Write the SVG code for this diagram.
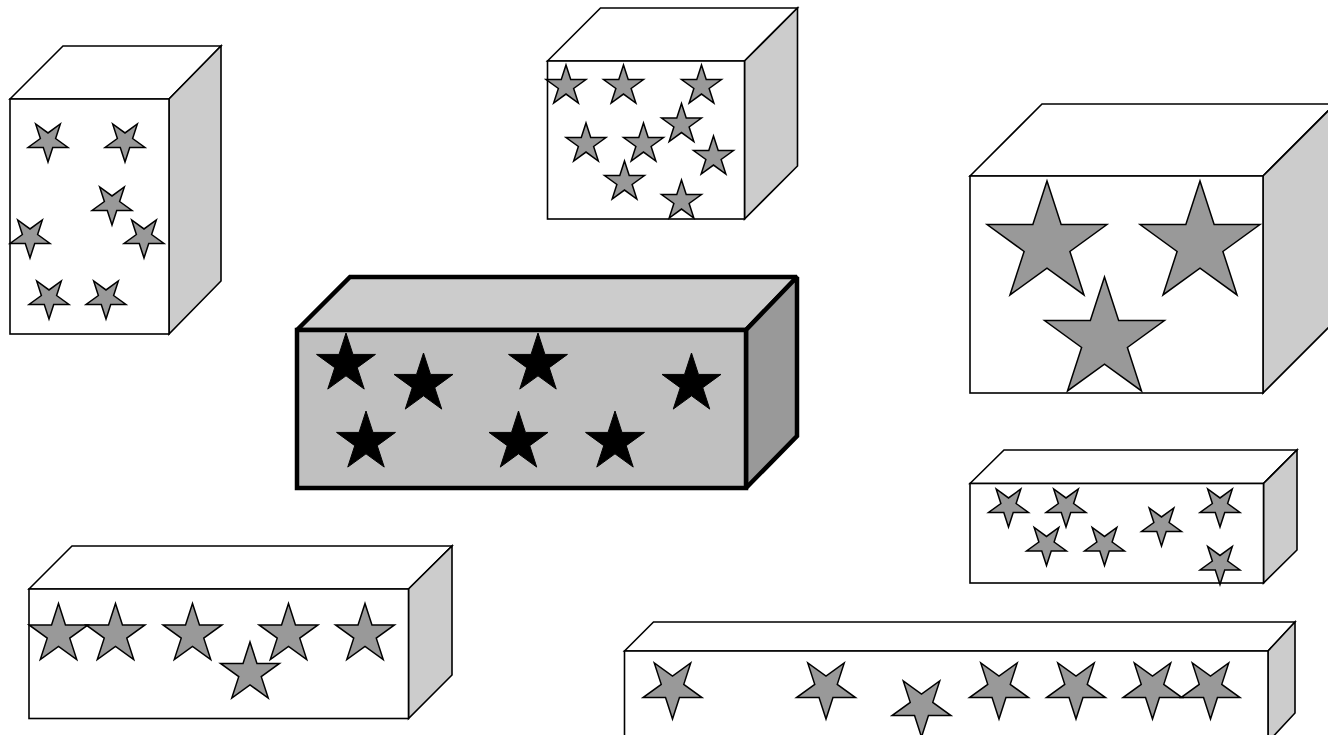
<svg xmlns="http://www.w3.org/2000/svg" xmlns:xlink="http://www.w3.org/1999/xlink" width="1328" height="735" viewBox="0 0 1328 735">
<style>
.face{stroke:#000;stroke-width:1.6;stroke-linejoin:miter;stroke-miterlimit:3}
.w{fill:#fff}
.side{fill:#ccc}
.gs{fill:#999;stroke:#000;stroke-width:1.5;stroke-linejoin:miter}
.bs{fill:#000;stroke:#000;stroke-width:1}
.thick{stroke:#000;stroke-width:4.5;stroke-linejoin:miter;stroke-miterlimit:1.5}
</style>
<defs>
<path id="s21" d="M0,-21L4.72,-6.49L19.97,-6.49L7.63,2.48L12.34,16.99L0,8.02L-12.34,16.99L-7.63,2.48L-19.97,-6.49L-4.72,-6.49Z"/>
<path id="s31" d="M0,-31L6.96,-9.58L29.48,-9.58L11.26,3.66L18.22,25.08L0,11.84L-18.22,25.08L-11.26,3.66L-29.48,-9.58L-6.96,-9.58Z"/>
<path id="s63" d="M0,-63L14.15,-19.47L59.92,-19.47L22.89,7.44L37.03,50.97L0,24.07L-37.03,50.97L-22.89,7.44L-59.92,-19.47L-14.15,-19.47Z"/>
</defs>
<rect width="1328" height="735" fill="#fff"/>

<g id="box1">
<polygon class="face w" points="10,99 63,46 221,46 169,99"/>
<polygon class="face side" points="169,99 221,46 221,281 169,334"/>
<rect class="face w" x="10" y="99" width="159" height="235"/>
<g class="gs">
<use xlink:href="#s21" transform="translate(48,141) rotate(180)"/>
<use xlink:href="#s21" transform="translate(125,141) rotate(180)"/>
<use xlink:href="#s21" transform="translate(112,204) rotate(180)"/>
<use xlink:href="#s21" transform="translate(30,237) rotate(180)"/>
<use xlink:href="#s21" transform="translate(144,237) rotate(180)"/>
<use xlink:href="#s21" transform="translate(49,298) rotate(180)"/>
<use xlink:href="#s21" transform="translate(106,298) rotate(180)"/>
</g>
</g>

<g id="box2">
<polygon class="face w" points="547.5,61 600.5,8 797.5,8 744.5,61"/>
<polygon class="face side" points="744.5,61 797.5,8 797.5,166 744.5,219"/>
<rect class="face w" x="547.5" y="61" width="197" height="158"/>
<g class="gs">
<use xlink:href="#s21" transform="translate(566,86)"/>
<use xlink:href="#s21" transform="translate(623.5,86)"/>
<use xlink:href="#s21" transform="translate(701.5,86)"/>
<use xlink:href="#s21" transform="translate(681.5,124.5)"/>
<use xlink:href="#s21" transform="translate(586,144)"/>
<use xlink:href="#s21" transform="translate(643.5,144)"/>
<use xlink:href="#s21" transform="translate(713.5,157)"/>
<use xlink:href="#s21" transform="translate(624.5,182)"/>
<use xlink:href="#s21" transform="translate(681.5,201)"/>
</g>
</g>

<g id="box3">
<polygon class="face w" points="970,176 1042,104 1335,104 1263,176"/>
<polygon class="face side" points="1263,176 1335,104 1335,321 1263,393"/>
<rect class="face w" x="970" y="176" width="293" height="217"/>
<g class="gs">
<use xlink:href="#s63" transform="translate(1047,244)"/>
<use xlink:href="#s63" transform="translate(1200,244)"/>
<use xlink:href="#s63" transform="translate(1104.5,340)"/>
</g>
</g>

<g id="box4">
<polygon class="thick" fill="#ccc" points="297,330 350,277 797,277 746,330"/>
<polygon class="thick" fill="#999" points="746,330 797,277 797,436 746,488"/>
<rect class="thick" fill="#c0c0c0" x="297" y="330" width="449" height="158"/>
<g class="bs">
<use xlink:href="#s31" transform="translate(346,364)"/>
<use xlink:href="#s31" transform="translate(423.5,384)"/>
<use xlink:href="#s31" transform="translate(538,364)"/>
<use xlink:href="#s31" transform="translate(691.5,384)"/>
<use xlink:href="#s31" transform="translate(366,442)"/>
<use xlink:href="#s31" transform="translate(518.5,442)"/>
<use xlink:href="#s31" transform="translate(615,442)"/>
</g>
</g>

<g id="box5">
<polygon class="face w" points="970,483.5 1004,450 1297,450 1263.5,483.5"/>
<polygon class="face side" points="1263.5,483.5 1297,450 1297,550 1263.5,583"/>
<rect class="face w" x="970" y="483.5" width="293.5" height="99.5"/>
<g class="gs">
<use xlink:href="#s21" transform="translate(1008.5,506) rotate(180)"/>
<use xlink:href="#s21" transform="translate(1066,506) rotate(180)"/>
<use xlink:href="#s21" transform="translate(1046.5,544.5) rotate(180)"/>
<use xlink:href="#s21" transform="translate(1104.5,544.5) rotate(180)"/>
<use xlink:href="#s21" transform="translate(1161.5,525) rotate(180)"/>
<use xlink:href="#s21" transform="translate(1220,506) rotate(180)"/>
<use xlink:href="#s21" transform="translate(1220,563.5) rotate(180)"/>
</g>
</g>

<g id="box6">
<polygon class="face w" points="29,589 72,546 452,546 408.5,589"/>
<polygon class="face side" points="408.5,589 452,546 452,675 408.5,718.5"/>
<rect class="face w" x="29" y="589" width="379.5" height="129.5"/>
<g class="gs">
<use xlink:href="#s31" transform="translate(58.5,634.5)"/>
<use xlink:href="#s31" transform="translate(115.5,634.5)"/>
<use xlink:href="#s31" transform="translate(192.5,634.5)"/>
<use xlink:href="#s31" transform="translate(250,673)"/>
<use xlink:href="#s31" transform="translate(288.5,634.5)"/>
<use xlink:href="#s31" transform="translate(365,634.5)"/>
</g>
</g>

<g id="box7">
<polygon class="face w" points="624.5,651 653.5,622 1295,622 1268,651"/>
<polygon class="face side" points="1268,651 1295,622 1295,713 1268,742"/>
<rect class="face w" x="624.5" y="651" width="643.5" height="91"/>
<g class="gs">
<use xlink:href="#s31" transform="translate(672.5,688) rotate(180)"/>
<use xlink:href="#s31" transform="translate(826,688) rotate(180)"/>
<use xlink:href="#s31" transform="translate(921.5,706) rotate(180)"/>
<use xlink:href="#s31" transform="translate(999,688) rotate(180)"/>
<use xlink:href="#s31" transform="translate(1076,688) rotate(180)"/>
<use xlink:href="#s31" transform="translate(1152.5,688) rotate(180)"/>
<use xlink:href="#s31" transform="translate(1210.5,688) rotate(180)"/>
</g>
</g>

<g id="connectors"></g>
</svg>
